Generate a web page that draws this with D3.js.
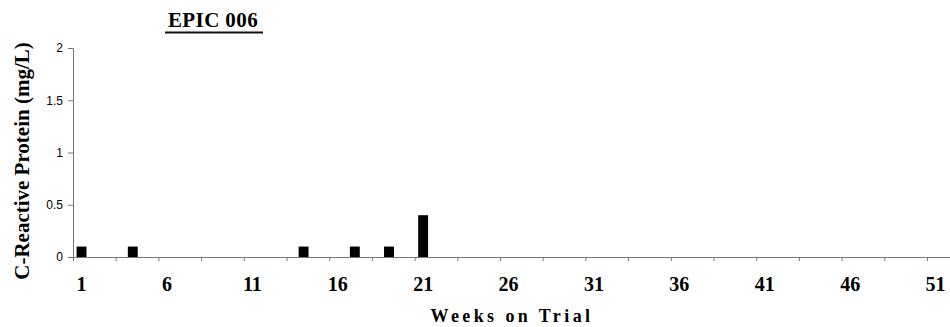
<!DOCTYPE html>
<html>
<head>
<meta charset="utf-8">
<script src="https://cdn.jsdelivr.net/npm/d3@7"></script>
<style>
    body { margin: 0; background: #fff; }
    svg { display: block; }
    .serif { font-family: "Liberation Serif", "Times New Roman", serif; font-weight: bold; fill: #000; }
</style>
</head>
<body>
<svg id="chart" width="950" height="327"></svg>
<script>
// データ
const weeks = [1, 4, 14, 17, 19, 21];
const crpValues = [0.1, 0.1, 0.1, 0.1, 0.1, 0.4];
const allWeeks = d3.range(1, 53);
const xLabelWeeks = [1, 6, 11, 16, 21, 26, 31, 36, 41, 46, 51];
const yTicks = [0, 0.5, 1, 1.5, 2];

const svg = d3.select('#chart');
const margin = { left: 73, top: 48, bottom: 257 };
const bandW = 17.08;

const x = d3.scaleBand()
    .domain(allWeeks)
    .range([margin.left, margin.left + allWeeks.length * bandW])
    .paddingInner(0.42)
    .paddingOuter(0.21);

// 目盛り線用（2.5週ごと）
const xLin = d3.scaleLinear()
    .domain([0.5, allWeeks.length + 0.5])
    .range([margin.left, margin.left + allWeeks.length * bandW]);

const y = d3.scaleLinear()
    .domain([0, 2])
    .range([margin.bottom, margin.top]);

// タイトル
svg.append('text')
    .attr('class', 'serif')
    .attr('x', 213)
    .attr('y', 27)
    .attr('text-anchor', 'middle')
    .attr('font-size', 21)
    .attr('letter-spacing', 0.4)
    .text('EPIC 006');
svg.append('line')
    .attr('x1', 165).attr('x2', 263)
    .attr('y1', 32.5).attr('y2', 32.5)
    .attr('stroke', '#111')
    .attr('stroke-width', 1.8);

// Y軸
const yAxis = svg.append('g')
    .attr('transform', `translate(${margin.left},0)`)
    .call(d3.axisLeft(y).tickValues(yTicks).tickSize(5).tickPadding(5).tickFormat(d => String(d)));
yAxis.select('.domain').attr('stroke', '#777').attr('stroke-width', 1);
yAxis.selectAll('.tick line').attr('stroke', '#777');
yAxis.selectAll('.tick text')
    .attr('font-family', 'Liberation Sans, Arial, sans-serif')
    .attr('font-size', 12)
    .attr('fill', '#000');

// X軸（目盛り線）
const xTickAxis = svg.append('g')
    .attr('transform', `translate(0,${margin.bottom})`)
    .call(d3.axisBottom(xLin).tickValues(d3.range(0.5, 53, 2.5)).tickSize(4).tickFormat(''));
xTickAxis.select('.domain').attr('stroke', '#777').attr('stroke-width', 1);
xTickAxis.selectAll('.tick line').attr('stroke', '#777');

// X軸（ラベル）
const xAxis = svg.append('g')
    .attr('transform', `translate(0,${margin.bottom})`)
    .call(d3.axisBottom(x).tickValues(xLabelWeeks).tickSize(0).tickPadding(20));
xAxis.select('.domain').remove();
xAxis.selectAll('.tick text')
    .attr('class', 'serif')
    .attr('font-size', 20);

// 棒
svg.append('g')
    .selectAll('rect')
    .data(weeks)
    .enter()
    .append('rect')
    .attr('x', d => x(d))
    .attr('width', x.bandwidth())
    .attr('y', (d, i) => y(crpValues[i]))
    .attr('height', (d, i) => y(0) - y(crpValues[i]))
    .attr('fill', '#000');

// 軸タイトル
svg.append('text')
    .attr('class', 'serif')
    .attr('x', 512)
    .attr('y', 322)
    .attr('text-anchor', 'middle')
    .attr('font-size', 18)
    .attr('letter-spacing', 3.4)
    .text('Weeks on Trial');

svg.append('text')
    .attr('class', 'serif')
    .attr('transform', 'translate(29,161) rotate(-90)')
    .attr('text-anchor', 'middle')
    .attr('font-size', 21)
    .text('C-Reactive Protein (mg/L)');
</script>
</body>
</html>
